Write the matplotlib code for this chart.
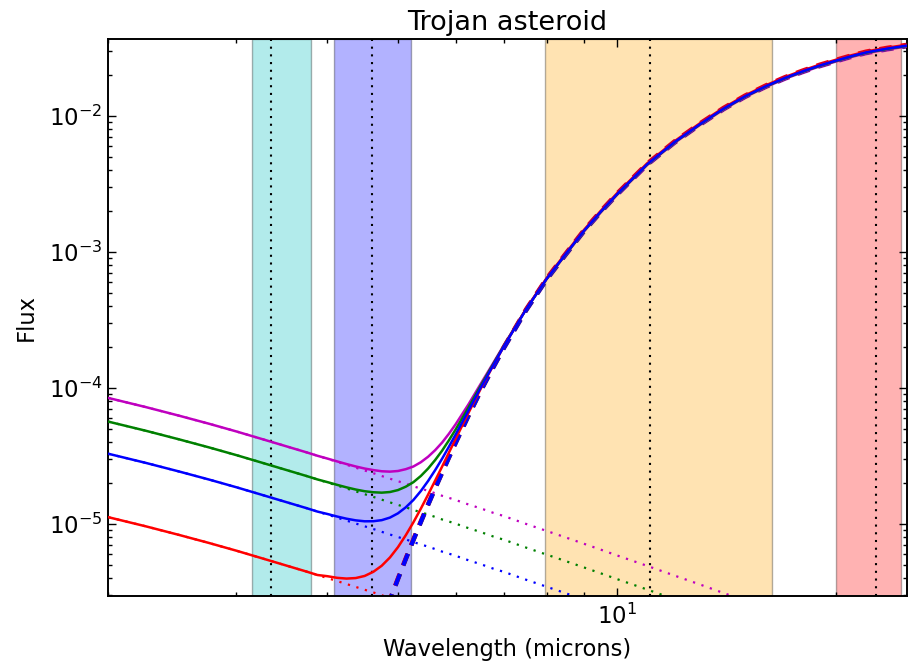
import matplotlib
matplotlib.use("Agg")
import matplotlib.pyplot as plt
import numpy as np
from matplotlib.ticker import NullFormatter, LogLocator, LogFormatterSciNotation

# ---------------- data ----------------
wavelength = [2.0, 2.25, 2.5, 2.75, 3.0, 3.25, 3.5, 3.75, 3.875,
              4.0, 4.125, 4.25, 4.375, 4.5, 4.625, 4.75, 4.875,
              5.0, 5.125, 5.25, 5.375, 5.5, 5.625, 5.75, 5.875,
              6.0, 6.25, 6.5, 6.75, 7.0,
              7.5, 8.0, 8.5, 9.0, 9.5, 10.0,
              11.0, 12.0, 13.0, 14.0, 15.0, 16.0, 17.0, 18.0, 19.0, 20.0, 21.0, 22.0,
              23.5, 25.0]

# reflected sunlight of the brightest (magenta) model; None = below the plot
reflected_magenta = [8.43e-5, 7.23e-5, 6.25e-5, 5.45e-5, 4.78e-5, 4.21e-5, 3.74e-5, 3.35e-5, 3.17e-5,
                     3.01e-5, 2.86e-5, 2.72e-5, 2.59e-5, 2.47e-5, 2.36e-5, 2.25e-5, 2.15e-5,
                     2.06e-5, 1.98e-5, 1.89e-5, 1.82e-5, 1.75e-5, 1.68e-5, 1.61e-5, 1.555e-5,
                     1.50e-5, 1.39e-5, 1.30e-5, 1.21e-5, 1.14e-5,
                     1.00e-5, 8.89e-6, 7.96e-6, 7.16e-6, 6.47e-6, 5.87e-6,
                     4.92e-6, 4.17e-6, 3.59e-6, 3.11e-6, 2.73e-6, 2.41e-6,
                     None, None, None, None, None, None, None, None]

# thermal emission (dashed); None = far below the plot
thermal = [None, None, None, None, None, None, None, None, None,
           1.25e-7, 2.11e-7, 3.45e-7, 5.50e-7, 8.5e-7, 1.29e-6, 1.91e-6, 2.77e-6,
           3.95e-6, 5.54e-6, 7.64e-6, 1.036e-5, 1.387e-5, 1.833e-5, 2.39e-5, 3.09e-5,
           3.95e-5, 6.27e-5, 9.59e-5, 1.403e-4, 2.00e-4,
           3.74e-4, 6.28e-4, 9.59e-4, 1.419e-3, 1.972e-3, 2.65e-3,
           4.40e-3, 6.41e-3, 8.67e-3, 1.125e-2, 1.390e-2, 1.644e-2, 1.892e-2, 2.12e-2,
           2.34e-2, 2.54e-2, 2.74e-2, 2.92e-2,
           3.11e-2, 3.27e-2]

model_colors = [(0.75, 0, 0.75), (0, 0.5, 0), (1, 0, 0), (0, 0, 1)]
reflected_ratio = [1.0, 0.670, 0.133, 0.389]     # relative to magenta reflected level
thermal_ratio = [0.985, 0.995, 1.015, 1.0]

band_ranges = [(3.15, 3.80), (4.085, 5.21), (7.95, 16.34), (20.0, 24.53)]
band_centres = [3.35, 4.6, 11.1, 22.7]
band_colors = [(0, 0.75, 0.75), (0, 0, 1), "orange", (1, 0, 0)]

# ---------------- figure ----------------
fig = plt.figure(figsize=(9.11, 6.66), dpi=100)
ax = fig.add_axes([0.11888, 0.10556, 0.87640, 0.83544])

for (lo, hi), c in zip(band_ranges, band_colors):
    ax.axvspan(lo, hi, facecolor=c, edgecolor="k", alpha=0.3, lw=1.0, zorder=0)
for xc in band_centres:
    ax.axvline(xc, color="k", ls=(0, (1, 2.7)), lw=1.5, zorder=1)

wl = np.array(wavelength, dtype=float)
refl_base = np.array([np.nan if v is None else v for v in reflected_magenta], dtype=float)
therm_base = np.array([np.nan if v is None else v for v in thermal], dtype=float)

for c, rr, tr in zip(model_colors, reflected_ratio, thermal_ratio):
    refl = refl_base * rr
    therm = therm_base * tr
    total = np.nan_to_num(refl) + np.nan_to_num(therm)
    ax.plot(wl, refl, color=c, ls=(0, (1, 3)), lw=1.6, zorder=2)
    ax.plot(wl, therm, color=c, ls=(0, (3, 2.2)), lw=3.0, zorder=2)
    ax.plot(wl, total, color=c, ls="-", lw=1.8, zorder=3)

ax.set_xscale("log")
ax.set_yscale("log")
ax.set_xlim(2.0, 25.0)
ax.set_ylim(2.97e-6, 3.64e-2)

ax.xaxis.set_major_locator(LogLocator(base=10))
ax.xaxis.set_major_formatter(LogFormatterSciNotation())
ax.xaxis.set_minor_locator(LogLocator(base=10, subs=np.arange(2, 10)))
ax.xaxis.set_minor_formatter(NullFormatter())
ax.yaxis.set_major_locator(LogLocator(base=10))
ax.yaxis.set_major_formatter(LogFormatterSciNotation())
ax.yaxis.set_minor_locator(LogLocator(base=10, subs=np.arange(2, 10)))
ax.yaxis.set_minor_formatter(NullFormatter())

ax.tick_params(which="both", direction="in", top=True, right=True, width=1.0,
               labelsize=16.5)
ax.tick_params(axis="y", pad=4)
ax.tick_params(axis="x", pad=6)
ax.tick_params(which="major", length=5.8)
ax.tick_params(which="minor", length=2.9)
for s in ax.spines.values():
    s.set_linewidth(1.4)

ax.set_title("Trojan asteroid", fontsize=19.5, pad=7)
ax.set_xlabel("Wavelength (microns)", fontsize=16.3, labelpad=6)
ax.set_ylabel("Flux", fontsize=16.3, labelpad=8)

fig.savefig("out.png", dpi=100)
